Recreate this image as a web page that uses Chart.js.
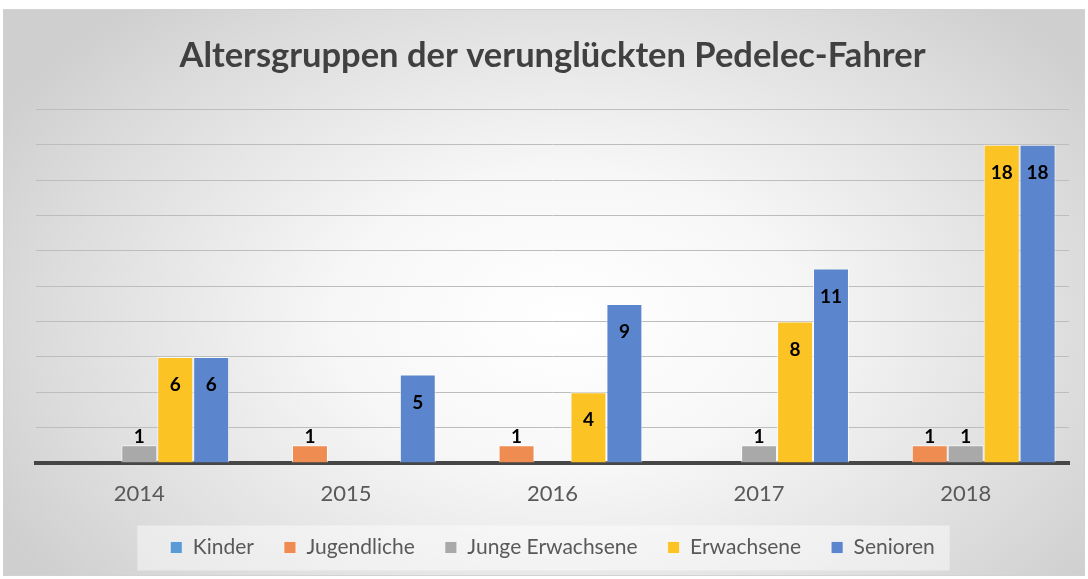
<!DOCTYPE html>
<html>
<head>
<meta charset="utf-8">
<script src="https://cdn.jsdelivr.net/npm/chart.js@4"></script>
<style>
  html, body { margin: 0; padding: 0; background: #fff; }
  #box {
    position: absolute; left: 3px; top: 9px; width: 1080px; height: 565px;
    border: 1px solid #d2d2d2; overflow: hidden;
    background: radial-gradient(ellipse 60% 75% at 52% 55%, #ffffff 0%, #f7f7f7 35%, #dcdcdc 80%, #cfcfcf 100%);
  }
</style>
</head>
<body>
<div id="box"><canvas id="chart" width="1080" height="565"></canvas></div>
<script>
const jahre = ["2014", "2015", "2016", "2017", "2018"];
const kinder = [0, 0, 0, 0, 0];
const jugendliche = [0, 1, 1, 0, 1];
const jungeErwachsene = [1, 0, 0, 1, 1];
const erwachsene = [6, 0, 4, 8, 18];
const senioren = [6, 5, 9, 11, 18];

const schrift = 'Lato, "Open Sans", sans-serif';

// Hintergrund der Legende
const legendeBox = {
  id: 'legendeBox',
  beforeDraw(chart) {
    const lg = chart.legend;
    if (!lg || !lg.legendHitBoxes.length) return;
    const hb = lg.legendHitBoxes;
    const x1 = hb[0].left - 33;
    const x2 = hb[hb.length - 1].left + hb[hb.length - 1].width + 15;
    const yc = hb[0].top + hb[0].height / 2;
    const c = chart.ctx;
    c.save();
    c.fillStyle = 'rgba(255,255,255,0.45)';
    c.fillRect(x1, yc - 22, x2 - x1, 45);
    c.restore();
  }
};

// Werte an den Balken
const werte = {
  id: 'werte',
  afterDatasetsDraw(chart) {
    const c = chart.ctx;
    c.save();
    c.font = 'bold 19px ' + schrift;
    c.fillStyle = '#000';
    c.textAlign = 'center';
    c.textBaseline = 'middle';
    chart.data.datasets.forEach((ds, i) => {
      const meta = chart.getDatasetMeta(i);
      meta.data.forEach((bar, j) => {
        const v = ds.data[j];
        if (!v) return;
        const h = bar.base - bar.y;
        const y = h > 40 ? bar.y + 28 : bar.y - 8;
        c.fillText(String(v), bar.x, y);
      });
    });
    c.restore();
  }
};

const ctx = document.getElementById('chart').getContext('2d');
new Chart(ctx, {
  type: 'bar',
  data: {
    labels: jahre,
    datasets: [
      { label: 'Kinder', data: kinder, backgroundColor: '#5b9bd5' },
      { label: 'Jugendliche', data: jugendliche, backgroundColor: '#ef8c51' },
      { label: 'Junge Erwachsene', data: jungeErwachsene, backgroundColor: '#a9a9a9' },
      { label: 'Erwachsene', data: erwachsene, backgroundColor: '#fbc323' },
      { label: 'Senioren', data: senioren, backgroundColor: '#5b85cc' }
    ].map(d => Object.assign(d, {
      borderColor: 'rgba(255,255,255,0.7)',
      borderWidth: 1,
      barPercentage: 1,
      categoryPercentage: 0.87
    }))
  },
  options: {
    responsive: false,
    animation: false,
    layout: { padding: { left: 32, right: 15, top: 0, bottom: 7 } },
    plugins: {
      title: {
        display: true,
        text: 'Altersgruppen der verunglückten Pedelec-Fahrer',
        color: '#404040',
        font: { family: schrift, size: 34.5, weight: 'bold' },
        padding: { top: 25, bottom: 33 }
      },
      legend: {
        position: 'bottom',
        labels: {
          color: '#595959',
          font: { family: schrift, size: 21 },
          boxWidth: 12,
          boxHeight: 12,
          padding: 30
        }
      },
      tooltip: { enabled: false }
    },
    scales: {
      x: {
        grid: { display: false, drawTicks: false },
        border: { color: '#464646', width: 4 },
        ticks: { color: '#595959', font: { family: schrift, size: 22 }, padding: 18 },
        afterFit: (s) => { s.height = 44; }
      },
      y: {
        min: 0,
        max: 20,
        ticks: { display: false, stepSize: 2 },
        grid: { color: '#bdbdbd', drawTicks: false },
        border: { display: false }
      }
    }
  },
  plugins: [legendeBox, werte]
});
</script>
</body>
</html>
